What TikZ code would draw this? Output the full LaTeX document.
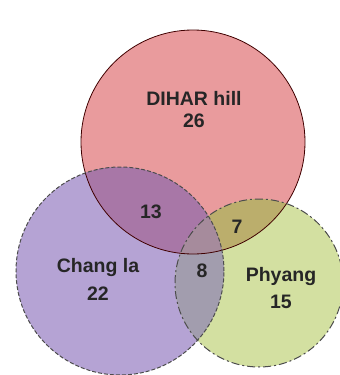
\documentclass[tikz,border=0pt]{standalone}
\usepackage{fontspec}
\setmainfont{Liberation Sans}
\definecolor{dihar}{HTML}{E99B9D}
\definecolor{changla}{HTML}{B5A3D4}
\definecolor{phyang}{HTML}{D3E0A1}
\definecolor{dihchang}{HTML}{A877A7}
\definecolor{dihphy}{HTML}{BBAE6C}
\definecolor{changphy}{HTML}{A29DAE}
\definecolor{allthree}{HTML}{A68B9C}
\begin{document}
\begin{tikzpicture}[x=1pt, y=-1pt,
    lbl/.style={font=\bfseries\fontsize{19.5}{22}\selectfont, text=black!85, anchor=base}]
    \useasboundingbox (0,0) rectangle (340,375);
    \coordinate (D) at (193,142);
    \coordinate (C) at (120,271);
    \coordinate (P) at (259,283);
    % base discs
    \fill[dihar] (D) circle (112pt);
    \fill[changla] (C) circle (104pt);
    \fill[phyang] (P) circle (84pt);
    % overlaps
    \begin{scope}
      \clip (D) circle (112pt);
      \fill[dihchang] (C) circle (104pt);
      \fill[dihphy] (P) circle (84pt);
    \end{scope}
    \begin{scope}
      \clip (C) circle (104pt);
      \fill[changphy] (P) circle (84pt);
      \clip (D) circle (112pt);
      \fill[allthree] (P) circle (84pt);
    \end{scope}
    % outlines
    \draw[line width=0.8pt, black!75!red] (D) circle (112pt);
    \draw[line width=1pt, black!70, dash pattern=on 4pt off 2pt] (C) circle (104pt);
    \draw[line width=1pt, black!70, dash pattern=on 8pt off 3pt on 2pt off 3pt] (P) circle (84pt);
    % labels
    \node[lbl] (dihar) at (194,105) {DIHAR hill};
    \node[lbl] (diharN) at (194,127) {26};
    \node[lbl] (changla) at (98,272) {Chang la};
    \node[lbl] (changlaN) at (98,300) {22};
    \node[lbl] (phyang) at (281,281) {Phyang};
    \node[lbl] (phyangN) at (281,308) {15};
    \node[lbl] (dc) at (151,218) {13};
    \node[lbl] (dp) at (237,233) {7};
    \node[lbl] (cp) at (202,277) {8};
  \end{tikzpicture}
\end{document}
